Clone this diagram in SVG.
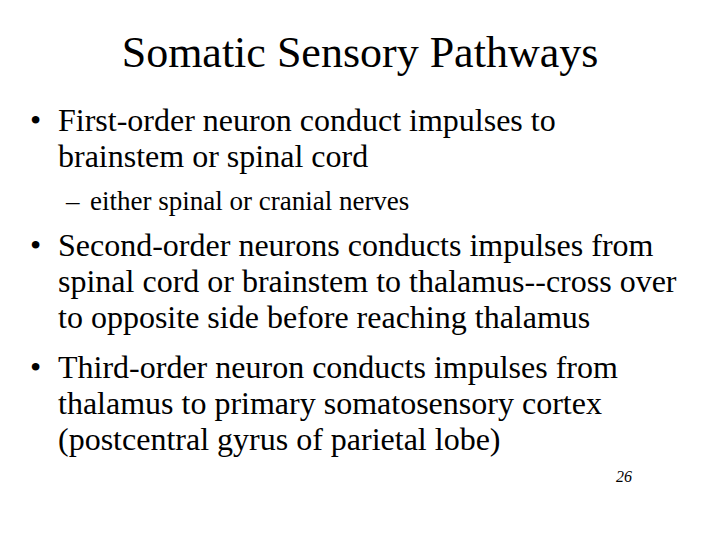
<svg xmlns="http://www.w3.org/2000/svg" width="720" height="540" viewBox="0 0 720 540">
<style>
text{font-family:"Liberation Serif","Times New Roman",serif;fill:#000}
.b{font-size:32px}
.s{font-size:27px}
</style>
<rect width="720" height="540" fill="#fff"/>
<text x="360" y="67" text-anchor="middle" font-size="44">Somatic Sensory Pathways</text>
<text class="b" x="30" y="131">•</text>
<text class="b" x="58" y="131">First-order neuron conduct impulses to</text>
<text class="b" x="58" y="167">brainstem or spinal cord</text>
<text class="s" x="66" y="210">–</text>
<text class="s" x="90" y="210">either spinal or cranial nerves</text>
<text class="b" x="30" y="256">•</text>
<text class="b" x="58" y="256">Second-order neurons conducts impulses from</text>
<text class="b" x="58" y="292">spinal cord or brainstem to thalamus--cross over</text>
<text class="b" x="58" y="328">to opposite side before reaching thalamus</text>
<text class="b" x="30" y="378">•</text>
<text class="b" x="58" y="378">Third-order neuron conducts impulses from</text>
<text class="b" x="58" y="414">thalamus to primary somatosensory cortex</text>
<text class="b" x="58" y="450">(postcentral gyrus of parietal lobe)</text>
<text x="616" y="482" font-size="16" font-style="italic">26</text>
</svg>
